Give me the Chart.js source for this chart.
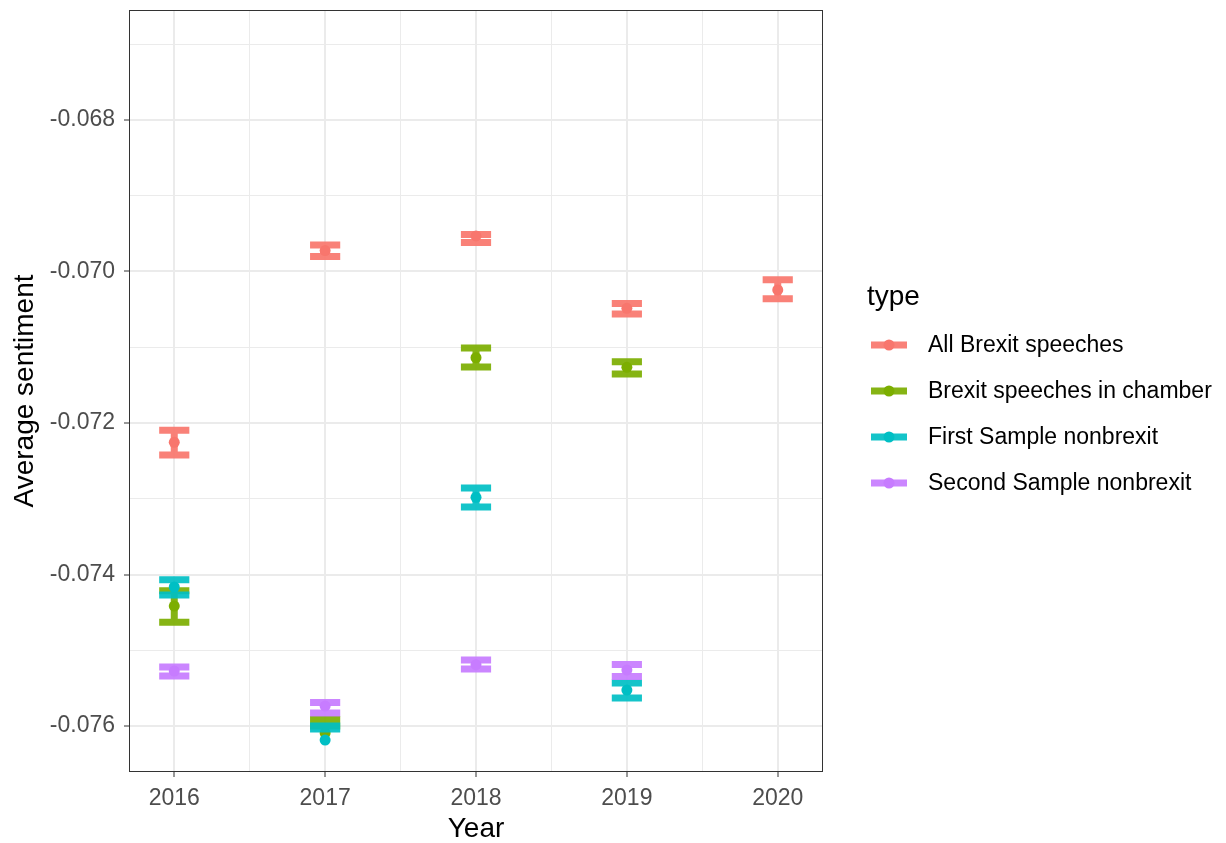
<!DOCTYPE html>
<html>
<head>
<meta charset="utf-8">
<title>Average sentiment by year</title>
<script src="https://cdn.jsdelivr.net/npm/chart.js@4"></script>
<style>
  html, body { margin: 0; padding: 0; background: #ffffff; }
  #wrap { width: 1226px; height: 843px; position: relative; }
</style>
</head>
<body>
<div id="wrap"><canvas id="chart" width="1226" height="843"></canvas></div>
<script>
// Years on the x axis
const years = [2016, 2017, 2018, 2019, 2020];

// Series labels (legend order)
const seriesNames = [
  "All Brexit speeches",
  "Brexit speeches in chamber",
  "First Sample nonbrexit",
  "Second Sample nonbrexit"
];

// All Brexit speeches: point estimate and error-bar limits
const allBrexitMean = [-0.072255, -0.069723, -0.069531, -0.070486, -0.070244];
const allBrexitLow  = [-0.072422, -0.069802, -0.069617, -0.070561, -0.070360];
const allBrexitHigh = [-0.072096, -0.069650, -0.069512, -0.070422, -0.070108];

// Brexit speeches in chamber
const chamberMean = [-0.074416, -0.076093, -0.071138, -0.071265];
const chamberLow  = [-0.074630, -0.076000, -0.071261, -0.071353];
const chamberHigh = [-0.074215, -0.075914, -0.071010, -0.071191];

// First Sample nonbrexit
const firstMean = [-0.074165, -0.076185, -0.072981, -0.075525];
const firstLow  = [-0.074271, -0.076040, -0.073109, -0.075630];
const firstHigh = [-0.074069, -0.076000, -0.072858, -0.075432];

// Second Sample nonbrexit
const secondMean = [-0.075274, -0.075736, -0.075191, -0.075261];
const secondLow  = [-0.075340, -0.075828, -0.075248, -0.075347];
const secondHigh = [-0.075221, -0.075690, -0.075129, -0.075188];

// Axis ticks
const yMajorTicks = [-0.076, -0.074, -0.072, -0.070, -0.068];
const yMinorTicks = [-0.075, -0.073, -0.071, -0.069, -0.067];
const yTickLabels = ["-0.076", "-0.074", "-0.072", "-0.070", "-0.068"];
const xMajorTicks = [2016, 2017, 2018, 2019, 2020];
const xMinorTicks = [2016.5, 2017.5, 2018.5, 2019.5];
const xTickLabels = ["2016", "2017", "2018", "2019", "2020"];

const palette = ["#F8766D", "#7CAE00", "#00BFC4", "#C77CFF"];
const FONT = "'Liberation Sans', Arial, Helvetica, sans-serif";

const seriesMeans = [allBrexitMean, chamberMean, firstMean, secondMean];
const seriesLows  = [allBrexitLow, chamberLow, firstLow, secondLow];
const seriesHighs = [allBrexitHigh, chamberHigh, firstHigh, secondHigh];

function withAlpha(hex, a) {
  const r = parseInt(hex.slice(1, 3), 16), g = parseInt(hex.slice(3, 5), 16), b = parseInt(hex.slice(5, 7), 16);
  return `rgba(${r},${g},${b},${a})`;
}

const ERR_HALF_WIDTH = 0.1;   // half width of the caps, in years
const ERR_LINE = 7;
const POINT_R = 5.5;

const datasets = seriesNames.map((name, i) => ({
  label: name,
  data: seriesMeans[i].map((v, j) => ({ x: years[j], y: v })),
  lows: seriesLows[i],
  highs: seriesHighs[i],
  backgroundColor: palette[i],
  borderColor: palette[i],
  borderWidth: 0,
  pointRadius: POINT_R,
  pointHoverRadius: POINT_R,
  showLine: false,
  order: seriesNames.length - i   // first series is drawn first, last on top
}));

// Error bars drawn just before each series' points
const errorBars = {
  id: 'errorBars',
  beforeDatasetDraw(chart, args) {
    const ds = chart.data.datasets[args.index];
    const xs = chart.scales.x, ys = chart.scales.y;
    const ctx = chart.ctx;
    ctx.save();
    ctx.strokeStyle = withAlpha(ds.borderColor, 0.92);
    ctx.lineWidth = ERR_LINE;
    ctx.lineCap = 'butt';
    ds.data.forEach((p, j) => {
      const xc = xs.getPixelForValue(p.x);
      const xl = xs.getPixelForValue(p.x - ERR_HALF_WIDTH);
      const xr = xs.getPixelForValue(p.x + ERR_HALF_WIDTH);
      const yLo = ys.getPixelForValue(ds.lows[j]);
      const yHi = ys.getPixelForValue(ds.highs[j]);
      ctx.beginPath();
      ctx.moveTo(xl, yHi); ctx.lineTo(xr, yHi);
      ctx.moveTo(xc, yHi); ctx.lineTo(xc, yLo);
      ctx.moveTo(xl, yLo); ctx.lineTo(xr, yLo);
      ctx.stroke();
    });
    ctx.restore();
  }
};

// Panel border on top of the data
const panelBorder = {
  id: 'panelBorder',
  afterDatasetsDraw(chart) {
    const { ctx, chartArea: a } = chart;
    ctx.save();
    ctx.strokeStyle = '#333333';
    ctx.lineWidth = 1;
    ctx.strokeRect(a.left + 0.5, a.top + 0.5, a.right - a.left - 1, a.bottom - a.top - 1);
    ctx.restore();
  }
};

// Legend with line + point keys
const keyLegend = {
  id: 'keyLegend',
  afterDraw(chart) {
    const ctx = chart.ctx;
    ctx.save();
    ctx.fillStyle = '#000000';
    ctx.textBaseline = 'middle';
    ctx.textAlign = 'left';
    ctx.font = `28px ${FONT}`;
    ctx.fillText('type', 867, 297);
    ctx.font = `23px ${FONT}`;
    seriesNames.forEach((name, i) => {
      const y = 345 + i * 46;
      ctx.strokeStyle = withAlpha(palette[i], 0.92);
      ctx.lineWidth = ERR_LINE;
      ctx.beginPath();
      ctx.moveTo(871, y); ctx.lineTo(907, y);
      ctx.stroke();
      ctx.fillStyle = palette[i];
      ctx.beginPath();
      ctx.arc(889, y, POINT_R, 0, Math.PI * 2);
      ctx.fill();
      ctx.fillStyle = '#000000';
      ctx.fillText(name, 928, y + 1);
    });
    ctx.restore();
  }
};

const yAllTicks = yMajorTicks.concat(yMinorTicks).sort((a, b) => a - b);
const xAllTicks = xMajorTicks.concat(xMinorTicks).sort((a, b) => a - b);
const isMajor = (list, v) => list.some(t => Math.abs(t - v) < 1e-9);

new Chart(document.getElementById('chart'), {
  type: 'scatter',
  data: { datasets },
  plugins: [errorBars, panelBorder, keyLegend],
  options: {
    responsive: false,
    animation: false,
    events: [],
    layout: { padding: { left: 0, top: 10, right: 403, bottom: 0 } },
    plugins: { legend: { display: false }, tooltip: { enabled: false } },
    scales: {
      x: {
        type: 'linear',
        min: 2015.7,
        max: 2020.3,
        afterBuildTicks(scale) { scale.ticks = xAllTicks.map(v => ({ value: v })); },
        afterFit(scale) { scale.height = 71; scale.paddingLeft = 0; scale.paddingRight = 0; },
        ticks: {
          autoSkip: false,
          maxRotation: 0,
          padding: 8,
          color: '#4D4D4D',
          font: { family: FONT, size: 23 },
          callback(v) {
            const k = xMajorTicks.findIndex(t => Math.abs(t - v) < 1e-9);
            return k >= 0 ? xTickLabels[k] : '';
          }
        },
        grid: {
          color: '#EBEBEB',
          lineWidth: ctx => (ctx.tick && isMajor(xMajorTicks, ctx.tick.value)) ? 2 : 1,
          drawTicks: true,
          tickLength: 5,
          tickWidth: 1,
          tickColor: ctx => (ctx.tick && isMajor(xMajorTicks, ctx.tick.value)) ? '#333333' : 'rgba(0,0,0,0)'
        },
        border: { display: false },
        title: {
          display: true,
          text: 'Year',
          color: '#000000',
          font: { family: FONT, size: 28, lineHeight: 1 },
          padding: { top: 0, bottom: 0 }
        }
      },
      y: {
        type: 'linear',
        min: -0.076607,
        max: -0.066548,
        afterBuildTicks(scale) { scale.ticks = yAllTicks.map(v => ({ value: v })); },
        afterFit(scale) { scale.width = 129; scale.paddingTop = 0; scale.paddingBottom = 0; },
        ticks: {
          autoSkip: false,
          padding: 9,
          color: '#4D4D4D',
          font: { family: FONT, size: 23 },
          callback(v) {
            const k = yMajorTicks.findIndex(t => Math.abs(t - v) < 1e-9);
            return k >= 0 ? yTickLabels[k] : '';
          }
        },
        grid: {
          color: '#EBEBEB',
          lineWidth: ctx => (ctx.tick && isMajor(yMajorTicks, ctx.tick.value)) ? 2 : 1,
          drawTicks: true,
          tickLength: 5,
          tickWidth: 1,
          tickColor: ctx => (ctx.tick && isMajor(yMajorTicks, ctx.tick.value)) ? '#333333' : 'rgba(0,0,0,0)'
        },
        border: { display: false },
        title: {
          display: true,
          text: 'Average sentiment',
          color: '#000000',
          font: { family: FONT, size: 28 },
          padding: { top: 8, bottom: 0 }
        }
      }
    }
  }
});
</script>
</body>
</html>
